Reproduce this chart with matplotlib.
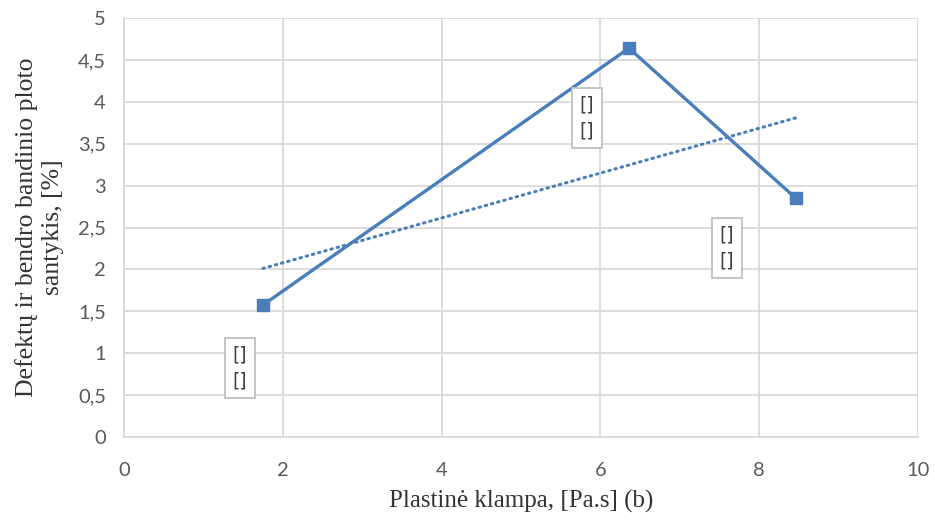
import numpy as np
import matplotlib
matplotlib.use('Agg')
import matplotlib.pyplot as plt
from matplotlib.ticker import FuncFormatter

# data
klampa = [1.75, 6.36, 8.46]
santykis = [1.575, 4.64, 2.85]
zymos = ['[]\n[]', '[]\n[]', '[]\n[]']
label_offsets = [(-23, -63), (-42, -70), (-69, -50)]  # pixels

blue = '#4a7ebb'
grid_c = '#d9d9d9'
tick_font = 'Lato'

fig = plt.figure(figsize=(9.35, 5.2), dpi=100)
ax = fig.add_axes([0.1326, 0.1596, 0.8492, 0.8058])

ax.plot(klampa, santykis, color=blue, lw=2.4, marker='s', ms=8,
        zorder=3)

# linear trend line
k, b = np.polyfit(klampa, santykis, 1)
tx = np.array([min(klampa), max(klampa)])
ax.plot(tx, k * tx + b, color=blue, lw=2.2, ls=(0, (0.5, 1.6)),
        dash_capstyle='round', zorder=2)

for x, y, txt, off in zip(klampa, santykis, zymos, label_offsets):
    ax.annotate(txt, (x, y), xytext=off, textcoords='offset pixels',
                ha='center', va='center', fontsize=13.5,
                family='DejaVu Sans Condensed',
                color='#404040', linespacing=1.5,
                bbox=dict(boxstyle='square,pad=0.4', fc='white',
                          ec='#bfbfbf', lw=1.3), zorder=4)

ax.set_xlim(0, 10)
ax.set_ylim(0, 5)
ax.set_xticks(np.arange(0, 11, 2))
ax.set_yticks(np.arange(0, 5.01, 0.5))
ax.yaxis.set_major_formatter(FuncFormatter(
    lambda v, p: ('%g' % v).replace('.', ',')))

ax.grid(True, color=grid_c, lw=1.3)
ax.set_axisbelow(True)
for s in ['top', 'right']:
    ax.spines[s].set_visible(False)
for s in ['left', 'bottom']:
    ax.spines[s].set_color(grid_c)
    ax.spines[s].set_linewidth(1.3)
ax.tick_params(length=0, labelsize=14.5, colors='#595959')
ax.tick_params(axis='y', pad=13)
ax.tick_params(axis='x', pad=18)
for t in ax.get_xticklabels() + ax.get_yticklabels():
    t.set_family(tick_font)

ax.set_xlabel('Plastinė klampa, [Pa.s] (b)', family='Liberation Serif',
              fontsize=18, color='#333333', labelpad=8)
ax.set_ylabel('Defektų ir bendro bandinio ploto\nsantykis, [%]',
              family='Liberation Serif', fontsize=18.5, color='#333333',
              labelpad=10, linespacing=1.25)

fig.savefig('out.png', dpi=100)
